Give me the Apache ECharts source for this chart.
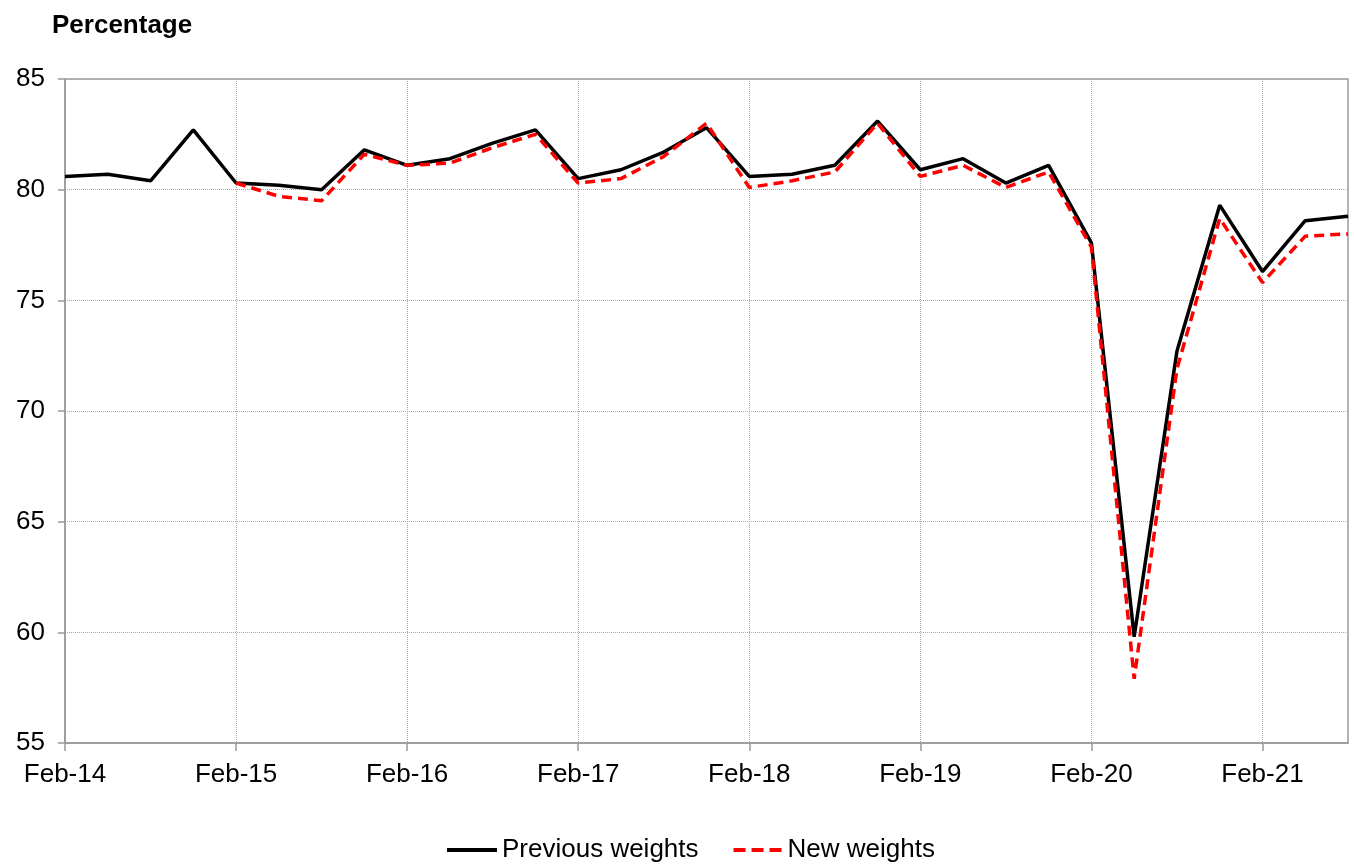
<!DOCTYPE html>
<html>
<head>
<meta charset="utf-8">
<script src="https://cdn.jsdelivr.net/npm/echarts@6/dist/echarts.min.js"></script>
<style>
html,body{margin:0;padding:0;background:#fff;}
#chart{width:1354px;height:864px;}
</style>
</head>
<body>
<div id="chart"></div>
<script>
const categories = [
  'Feb-14','May-14','Aug-14','Nov-14',
  'Feb-15','May-15','Aug-15','Nov-15',
  'Feb-16','May-16','Aug-16','Nov-16',
  'Feb-17','May-17','Aug-17','Nov-17',
  'Feb-18','May-18','Aug-18','Nov-18',
  'Feb-19','May-19','Aug-19','Nov-19',
  'Feb-20','May-20','Aug-20','Nov-20',
  'Feb-21','May-21','Aug-21'
];
const previousWeights = [
  80.6, 80.7, 80.4, 82.7,
  80.3, 80.2, 80.0, 81.8,
  81.1, 81.4, 82.1, 82.7,
  80.5, 80.9, 81.7, 82.8,
  80.6, 80.7, 81.1, 83.1,
  80.9, 81.4, 80.3, 81.1,
  77.6, 59.8, 72.7, 79.3,
  76.3, 78.6, 78.8
];
const newWeights = [
  null, null, null, null,
  80.3, 79.7, 79.5, 81.6,
  81.1, 81.2, 81.9, 82.5,
  80.3, 80.5, 81.5, 83.0,
  80.1, 80.4, 80.8, 83.0,
  80.6, 81.1, 80.1, 80.8,
  77.4, 57.9, 71.9, 78.7,
  75.8, 77.9, 78.0
];
const seriesNames = ['Previous weights', 'New weights'];
const yTicks = {min: 55, max: 85, interval: 5};
const yAxisTitle = 'Percentage';

const font = '"Liberation Sans", Arial, sans-serif';
const chart = echarts.init(document.getElementById('chart'));
chart.setOption({
  animation: false,
  backgroundColor: '#fff',
  title: {
    text: yAxisTitle,
    left: 47, top: 8,
    textStyle: {fontFamily: font, fontSize: 26, fontWeight: 'bold', color: '#000'}
  },
  legend: {
    top: 837, left: 447, padding: 0,
    itemWidth: 50, itemHeight: 4, itemGap: 35,
    textStyle: {fontFamily: font, fontSize: 26, color: '#000'},
    data: [
      {name: seriesNames[0], icon: 'path://M0,0H50V4H0Z'},
      {name: seriesNames[1], icon: 'path://M0,0H12V4H0Z M18,0H30V4H18Z M36,0H48V4H36Z'}
    ]
  },
  grid: {left: 65, right: 6, top: 79, bottom: 121, show: true, borderColor: '#999', borderWidth: 1.5},
  xAxis: {
    type: 'category',
    data: categories,
    boundaryGap: false,
    axisLine: {lineStyle: {color: '#999', width: 1.5}},
    axisTick: {interval: 3, length: 8, lineStyle: {color: '#999', width: 1.5}},
    axisLabel: {interval: 3, margin: 19, fontFamily: font, fontSize: 26, color: '#000'},
    splitLine: {show: true, interval: 3, lineStyle: {color: '#aaa', type: 'dotted', width: 1}}
  },
  yAxis: {
    type: 'value',
    min: yTicks.min, max: yTicks.max, interval: yTicks.interval,
    axisLine: {show: true, lineStyle: {color: '#999', width: 1.5}},
    axisTick: {show: true, length: 7, lineStyle: {color: '#999', width: 1.5}},
    axisLabel: {margin: 20, fontFamily: font, fontSize: 26, color: '#000'},
    splitLine: {show: true, lineStyle: {color: '#aaa', type: 'dotted', width: 1}}
  },
  series: [
    {
      name: seriesNames[0], type: 'line', data: previousWeights,
      symbol: 'none', z: 2,
      lineStyle: {color: '#000', width: 3.5},
      itemStyle: {color: '#000'}
    },
    {
      name: seriesNames[1], type: 'line', data: newWeights,
      symbol: 'none', z: 3,
      lineStyle: {color: '#ff0000', width: 3.5, type: [10, 6]},
      itemStyle: {color: '#ff0000'}
    }
  ]
});
</script>
</body>
</html>
